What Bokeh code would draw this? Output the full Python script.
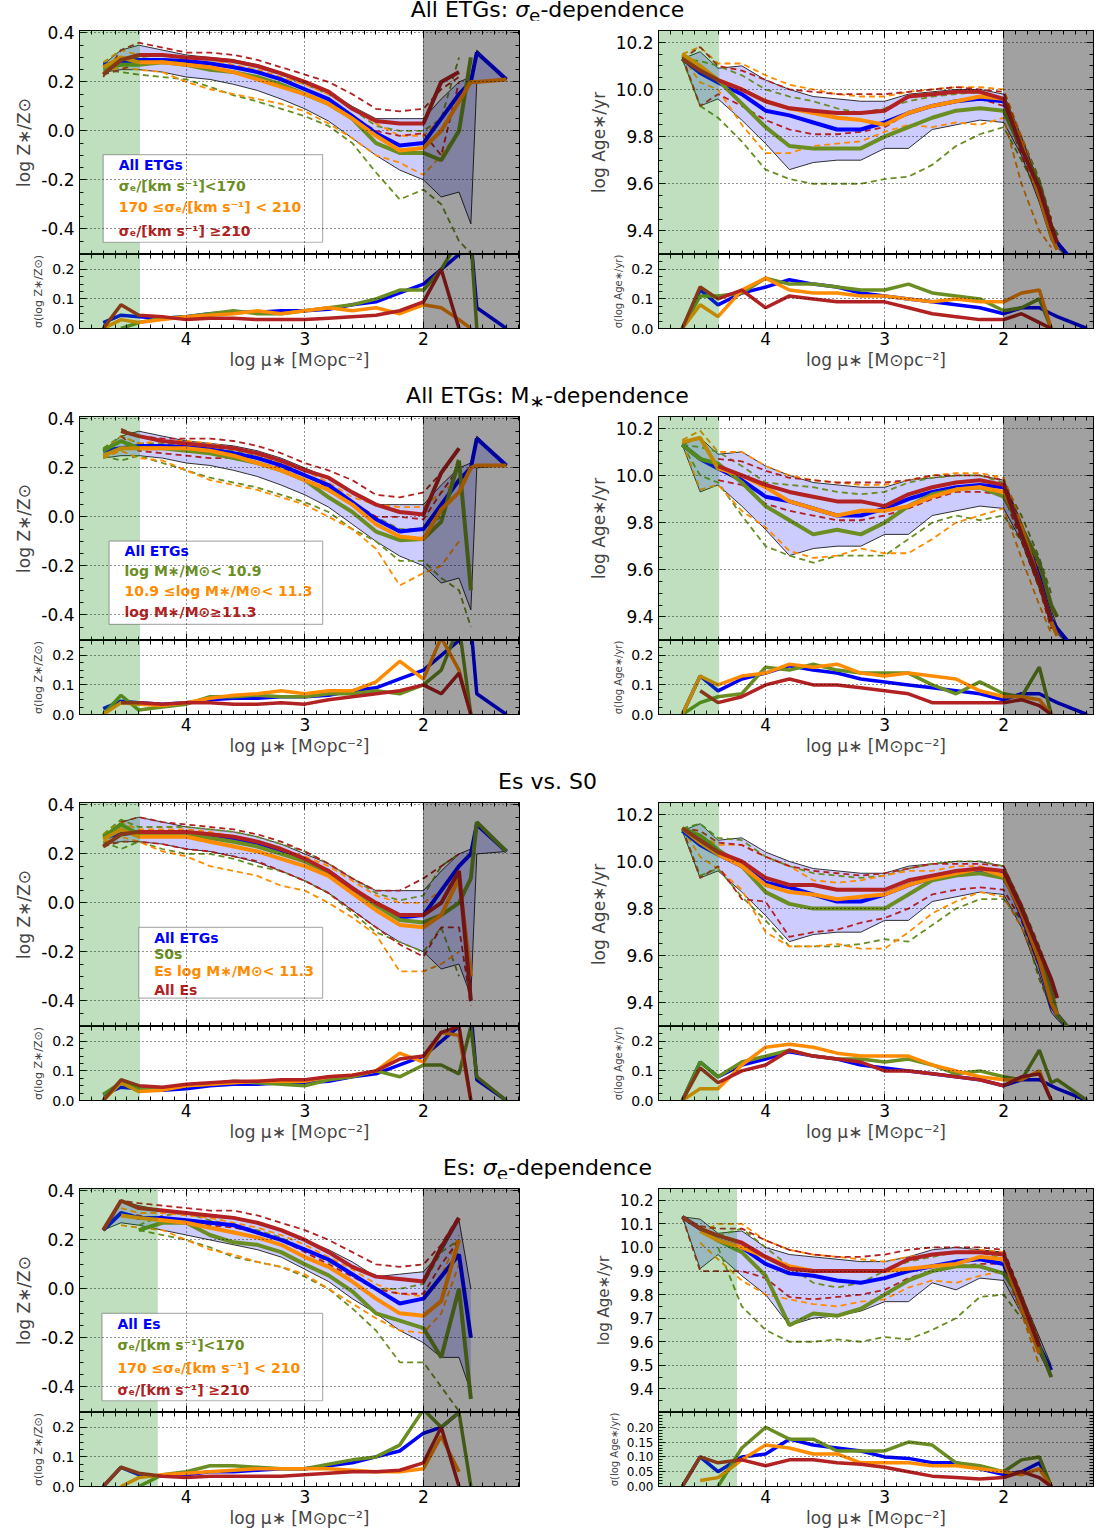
import numpy as np

from bokeh.plotting import figure
from bokeh.layouts import row, column
from bokeh.models import (Range1d, LinearAxis, FixedTicker, BoxAnnotation, Label,
                          Div, NumeralTickFormatter)
from bokeh.embed import file_html
from bokeh.resources import INLINE

# radial grid, log mu_* (same for every profile)
MU = [4.7, 4.55, 4.4, 4.2, 4.0, 3.8, 3.6, 3.4, 3.2, 3.0, 2.8, 2.6, 2.4, 2.2, 2.0, 1.85, 1.7, 1.6, 1.55, 1.3]
N = None

# ---- All ETGs (rows 1-3): mean, lower / upper envelope, scatter
Z_ALL = [0.27, 0.28, 0.29, 0.29, 0.285, 0.275, 0.26, 0.24, 0.21, 0.17, 0.13, 0.06, -0.01, -0.06, -0.05, 0.05, 0.15, 0.2, 0.32, 0.21]
Z_ALL_LO = [0.24, 0.25, 0.25, 0.24, 0.22, 0.21, 0.19, 0.165, 0.13, 0.09, 0.04, -0.03, -0.1, -0.16, -0.2, -0.27, -0.25, -0.38, 0.2, 0.21]
Z_ALL_HI = [0.27, 0.33, 0.35, 0.33, 0.31, 0.30, 0.29, 0.27, 0.24, 0.20, 0.16, 0.10, 0.05, 0.05, 0.05, 0.13, 0.2, 0.22, 0.33, 0.21]
Z_ALL_SD = [0.02, 0.045, 0.04, 0.035, 0.04, 0.05, 0.055, 0.055, 0.06, 0.06, 0.065, 0.08, 0.09, 0.12, 0.15, 0.2, 0.25, 0.3, 0.07, 0.0]
AGE_ALL = [10.13, 10.07, 10.03, 9.98, 9.91, 9.89, 9.86, 9.83, 9.83, 9.86, 9.9, 9.93, 9.95, 9.96, 9.95, 9.77, 9.57, 9.39, 9.35, 9.2]
AGE_ALL_LO = [10.13, 9.93, 9.96, 9.87, 9.77, 9.66, 9.69, 9.7, 9.7, 9.75, 9.75, 9.83, 9.85, 9.87, 9.86, 9.72, 9.52, 9.36, 9.33, 9.2]
AGE_ALL_HI = [10.13, 10.16, 10.09, 10.1, 10.04, 10.0, 9.97, 9.96, 9.95, 9.95, 9.98, 9.99, 10.0, 10.0, 9.98, 9.8, 9.6, 9.43, 9.36, 9.2]
AGE_ALL_SD = [0.0, 0.13, 0.08, 0.12, 0.14, 0.165, 0.15, 0.14, 0.12, 0.11, 0.1, 0.09, 0.08, 0.07, 0.05, 0.07, 0.07, 0.05, 0.04, 0.0]

# ---- row 1: sigma_e bins
Z_SIG1 = [0.26, 0.27, 0.27, 0.28, 0.27, 0.25, 0.24, 0.22, 0.19, 0.15, 0.11, 0.05, -0.05, -0.09, -0.09, -0.12, 0.0, 0.3, N, N]
Z_SIG1_LO = [0.25, 0.24, 0.23, 0.22, 0.21, 0.18, 0.145, 0.12, 0.09, 0.06, 0.02, -0.05, -0.17, -0.28, -0.24, -0.3, -0.45, -0.5, N, N]
Z_SIG1_HI = [0.27, 0.29, 0.30, 0.31, 0.30, 0.29, 0.28, 0.26, 0.23, 0.19, 0.15, 0.09, 0.02, 0.0, 0.0, 0.05, 0.3, N, N, N]
Z_SIG1_SD = [N, 0.0, 0.02, 0.035, 0.04, 0.05, 0.06, 0.05, 0.05, 0.06, 0.07, 0.08, 0.1, 0.13, 0.13, 0.2, 0.3, 0.3, 0.0, N]
Z_SIG2 = [0.26, 0.30, 0.28, 0.28, 0.27, 0.26, 0.24, 0.21, 0.18, 0.15, 0.11, 0.05, -0.02, -0.08, -0.07, 0.0, 0.12, 0.2, 0.2, 0.21]
Z_SIG2_LO = [0.24, 0.26, 0.25, 0.24, 0.2, 0.17, 0.15, 0.13, 0.11, 0.08, 0.03, -0.03, -0.1, -0.13, -0.18, -0.1, 0.0, N, N, N]
Z_SIG2_HI = [0.28, 0.33, 0.31, 0.31, 0.30, 0.29, 0.27, 0.25, 0.22, 0.19, 0.15, 0.09, 0.03, -0.02, -0.02, 0.05, 0.15, N, N, N]
Z_SIG2_SD = [0.0, 0.03, 0.02, 0.03, 0.04, 0.045, 0.05, 0.06, 0.05, 0.06, 0.07, 0.06, 0.07, 0.05, 0.08, 0.07, 0.03, 0.0, N, N]
Z_SIG3 = [0.23, 0.29, 0.31, 0.31, 0.30, 0.295, 0.285, 0.265, 0.235, 0.2, 0.16, 0.09, 0.04, 0.03, 0.03, 0.2, 0.24, N, N, N]
Z_SIG3_LO = [0.23, 0.25, 0.28, 0.28, 0.28, 0.27, 0.26, 0.24, 0.21, 0.17, 0.13, 0.06, 0.0, -0.02, -0.01, -0.1, 0.2, N, N, N]
Z_SIG3_HI = [0.22, 0.33, 0.36, 0.34, 0.32, 0.32, 0.31, 0.29, 0.26, 0.23, 0.20, 0.15, 0.09, 0.08, 0.09, 0.17, 0.22, N, N, N]
Z_SIG3_SD = [0.0, 0.08, 0.045, 0.04, 0.03, 0.035, 0.035, 0.03, 0.03, 0.03, 0.035, 0.04, 0.045, 0.06, 0.09, 0.2, 0.0, N, N, N]
AGE_SIG1 = [10.13, 10.09, 10.04, 9.94, 9.84, 9.76, 9.75, 9.75, 9.75, 9.8, 9.84, 9.88, 9.91, 9.92, 9.91, 9.75, 9.6, 9.42, 9.38, N]
AGE_SIG1_LO = [10.13, 9.93, 9.88, 9.78, 9.66, 9.62, 9.6, 9.6, 9.6, 9.62, 9.63, 9.68, 9.76, 9.81, 9.84, 9.7, 9.55, 9.4, N, N]
AGE_SIG1_HI = [10.13, 10.12, 10.1, 10.06, 10.0, 9.97, 9.95, 9.92, 9.9, 9.92, 9.95, 9.97, 9.98, 9.99, 9.96, 9.8, 9.62, 9.45, N, N]
AGE_SIG1_SD = [0.0, 0.11, 0.11, 0.12, 0.17, 0.15, 0.15, 0.14, 0.13, 0.13, 0.15, 0.12, 0.11, 0.1, 0.06, 0.07, 0.1, 0.0, N, N]
AGE_SIG2 = [10.15, 10.1, 10.04, 10.0, 9.95, 9.92, 9.9, 9.88, 9.87, 9.85, 9.9, 9.93, 9.95, 9.97, 9.96, 9.77, 9.55, 9.38, 9.32, N]
AGE_SIG2_LO = [10.14, 10.03, 10.0, 9.85, 9.73, 9.73, 9.76, 9.77, 9.78, 9.82, 9.85, 9.84, 9.86, 9.85, 9.88, 9.6, 9.4, 9.33, N, N]
AGE_SIG2_HI = [10.15, 10.18, 10.11, 10.11, 10.06, 10.02, 10.0, 9.98, 9.97, 9.97, 9.99, 10.0, 10.01, 10.01, 10.0, 9.8, 9.6, 9.42, N, N]
AGE_SIG2_SD = [0.0, 0.08, 0.04, 0.13, 0.17, 0.13, 0.12, 0.12, 0.11, 0.11, 0.1, 0.09, 0.1, 0.09, 0.09, 0.12, 0.13, 0.0, N, N]
AGE_SIG3 = [10.13, 10.08, 10.04, 10.0, 9.95, 9.92, 9.91, 9.9, 9.9, 9.91, 9.97, 9.98, 9.99, 9.99, 9.96, 9.75, 9.58, 9.42, 9.35, N]
AGE_SIG3_LO = [10.14, 9.93, 9.98, 9.93, 9.87, 9.83, 9.81, 9.81, 9.82, 9.84, 9.9, 9.93, 9.95, 9.96, 9.93, 9.72, 9.55, 9.38, N, N]
AGE_SIG3_HI = [10.13, 10.18, 10.1, 10.08, 10.04, 10.0, 9.99, 9.98, 9.98, 9.98, 9.99, 10.0, 10.01, 10.0, 9.99, 9.78, 9.6, 9.45, N, N]
AGE_SIG3_SD = [0.0, 0.14, 0.1, 0.13, 0.07, 0.11, 0.1, 0.09, 0.09, 0.09, 0.07, 0.05, 0.04, 0.03, 0.03, 0.05, 0.02, 0.0, N, N]

# ---- row 2: stellar-mass bins
Z_M1 = [0.27, 0.31, 0.28, 0.28, 0.27, 0.26, 0.24, 0.22, 0.19, 0.15, 0.08, 0.02, -0.06, -0.095, -0.09, -0.02, 0.23, -0.3, N, N]
Z_M1_LO = [0.25, 0.23, 0.25, 0.22, 0.19, 0.16, 0.14, 0.12, 0.09, 0.06, 0.02, -0.05, -0.1, -0.18, -0.18, -0.25, -0.3, -0.45, N, N]
Z_M1_HI = [0.28, 0.33, 0.30, 0.30, 0.29, 0.28, 0.27, 0.25, 0.22, 0.17, 0.12, 0.06, 0.0, -0.05, -0.05, 0.0, 0.25, N, N, N]
Z_M1_SD = [0.0, 0.065, 0.015, 0.025, 0.035, 0.06, 0.06, 0.065, 0.06, 0.06, 0.07, 0.07, 0.08, 0.07, 0.1, 0.15, 0.3, 0.0, N, N]
Z_M2 = [0.25, 0.28, 0.28, 0.28, 0.28, 0.27, 0.25, 0.22, 0.19, 0.15, 0.11, 0.05, -0.03, -0.08, -0.09, 0.03, 0.1, 0.2, 0.21, 0.21]
Z_M2_LO = [0.24, 0.27, 0.24, 0.23, 0.19, 0.15, 0.13, 0.11, 0.08, 0.05, 0.0, -0.05, -0.13, -0.28, -0.23, -0.2, -0.1, N, N, N]
Z_M2_HI = [0.27, 0.33, 0.30, 0.31, 0.31, 0.30, 0.28, 0.25, 0.22, 0.19, 0.14, 0.08, 0.05, 0.04, 0.04, 0.1, 0.15, N, N, N]
Z_M2_SD = [0.0, 0.04, 0.035, 0.03, 0.04, 0.055, 0.065, 0.07, 0.08, 0.07, 0.08, 0.08, 0.11, 0.18, 0.12, 0.26, 0.15, 0.0, N, N]
Z_M3 = [N, 0.35, 0.33, 0.31, 0.30, 0.29, 0.28, 0.26, 0.23, 0.19, 0.16, 0.1, 0.05, 0.02, 0.01, 0.18, 0.28, N, N, N]
Z_M3_LO = [N, 0.33, 0.27, 0.26, 0.25, 0.24, 0.24, 0.22, 0.2, 0.17, 0.12, 0.06, 0.0, 0.0, -0.01, 0.1, 0.2, N, N, N]
Z_M3_HI = [N, 0.36, 0.33, 0.32, 0.32, 0.32, 0.31, 0.29, 0.26, 0.22, 0.19, 0.15, 0.09, 0.08, 0.1, 0.18, 0.28, N, N, N]
Z_M3_SD = [N, 0.04, 0.04, 0.035, 0.04, 0.04, 0.035, 0.035, 0.04, 0.035, 0.05, 0.06, 0.07, 0.08, 0.1, 0.07, 0.14, 0.0, N, N]
AGE_M1 = [10.13, 10.07, 10.05, 9.97, 9.87, 9.81, 9.75, 9.77, 9.75, 9.8, 9.87, 9.92, 9.94, 9.95, 9.91, 9.78, 9.63, 9.45, 9.4, N]
AGE_M1_LO = [10.13, 10.0, 9.97, 9.83, 9.7, 9.66, 9.63, 9.66, 9.66, 9.66, 9.73, 9.8, 9.83, 9.81, 9.83, 9.72, 9.58, 9.45, N, N]
AGE_M1_HI = [10.13, 10.12, 10.1, 10.04, 9.97, 9.96, 9.95, 9.93, 9.92, 9.93, 9.97, 9.99, 10.0, 10.0, 9.97, 9.83, 9.65, 9.5, N, N]
AGE_M1_SD = [0.0, 0.04, 0.06, 0.07, 0.16, 0.15, 0.17, 0.15, 0.14, 0.14, 0.14, 0.1, 0.07, 0.11, 0.07, 0.06, 0.16, 0.0, N, N]
AGE_M2 = [10.14, 10.16, 10.03, 10.0, 9.95, 9.89, 9.86, 9.83, 9.85, 9.85, 9.87, 9.91, 9.94, 9.95, 9.93, 9.78, 9.55, 9.38, 9.32, N]
AGE_M2_LO = [10.14, 9.94, 9.96, 9.85, 9.78, 9.68, 9.65, 9.66, 9.69, 9.67, 9.67, 9.73, 9.8, 9.83, 9.86, 9.65, 9.45, 9.33, N, N]
AGE_M2_HI = [10.15, 10.19, 10.1, 10.1, 10.04, 10.0, 9.98, 9.97, 9.96, 9.96, 9.98, 10.0, 10.01, 10.01, 9.99, 9.8, 9.6, 9.42, N, N]
AGE_M2_SD = [0.0, 0.13, 0.1, 0.13, 0.14, 0.17, 0.16, 0.17, 0.14, 0.13, 0.14, 0.13, 0.12, 0.08, 0.06, 0.06, 0.05, 0.0, N, N]
AGE_M3 = [N, N, 10.04, 10.0, 9.96, 9.93, 9.91, 9.89, 9.89, 9.87, 9.92, 9.95, 9.97, 9.98, 9.96, 9.75, 9.55, 9.38, N, N]
AGE_M3_LO = [N, N, 9.98, 9.96, 9.88, 9.85, 9.83, 9.81, 9.81, 9.83, 9.86, 9.9, 9.93, 9.93, 9.92, 9.72, 9.52, 9.35, N, N]
AGE_M3_HI = [N, N, 10.07, 10.06, 10.02, 9.99, 9.98, 9.97, 9.97, 9.97, 9.98, 10.0, 10.0, 10.0, 9.98, 9.78, 9.58, 9.4, N, N]
AGE_M3_SD = [N, 0.08, 0.04, 0.06, 0.1, 0.12, 0.1, 0.1, 0.09, 0.08, 0.07, 0.04, 0.04, 0.04, 0.04, 0.05, 0.03, 0.0, N, N]

# ---- row 3: S0s, Es below 11.3, all Es
Z_S0 = [0.27, 0.32, 0.28, 0.28, 0.28, 0.265, 0.25, 0.23, 0.2, 0.17, 0.12, 0.06, -0.01, -0.07, -0.08, -0.05, 0.0, 0.1, 0.33, 0.21]
Z_S0_LO = [0.25, 0.22, 0.25, 0.22, 0.2, 0.2, 0.18, 0.15, 0.13, 0.09, 0.04, -0.04, -0.12, -0.16, -0.2, -0.1, -0.3, N, N, N]
Z_S0_HI = [0.28, 0.34, 0.31, 0.31, 0.31, 0.30, 0.29, 0.27, 0.24, 0.21, 0.16, 0.1, 0.04, 0.01, 0.03, 0.15, 0.2, N, N, N]
Z_S0_SD = [0.02, 0.06, 0.04, 0.04, 0.05, 0.055, 0.065, 0.06, 0.055, 0.05, 0.07, 0.08, 0.1, 0.08, 0.12, 0.12, 0.09, 0.25, 0.08, 0.0]
Z_EL = [0.26, 0.3, 0.27, 0.27, 0.27, 0.25, 0.23, 0.21, 0.18, 0.15, 0.11, 0.04, -0.03, -0.09, -0.1, -0.05, 0.1, -0.3, N, N]
Z_EL_LO = [0.25, 0.27, 0.25, 0.21, 0.19, 0.15, 0.13, 0.11, 0.07, 0.05, 0.0, -0.06, -0.13, -0.28, -0.28, -0.25, -0.2, N, N, N]
Z_EL_HI = [0.28, 0.33, 0.30, 0.30, 0.30, 0.29, 0.27, 0.25, 0.22, 0.19, 0.15, 0.09, 0.03, 0.0, 0.0, 0.05, 0.1, N, N, N]
Z_EL_SD = [0.0, 0.06, 0.03, 0.035, 0.05, 0.055, 0.06, 0.065, 0.065, 0.065, 0.08, 0.085, 0.1, 0.16, 0.13, 0.23, 0.22, 0.0, N, N]
Z_EA = [0.23, 0.28, 0.29, 0.29, 0.29, 0.28, 0.27, 0.25, 0.22, 0.18, 0.13, 0.06, 0.0, -0.05, -0.05, 0.0, 0.13, -0.4, N, N]
Z_EA_LO = [0.23, 0.25, 0.25, 0.24, 0.22, 0.21, 0.19, 0.17, 0.13, 0.09, 0.04, -0.03, -0.1, -0.17, -0.22, -0.1, -0.1, -0.42, N, N]
Z_EA_HI = [0.23, 0.33, 0.35, 0.33, 0.32, 0.31, 0.30, 0.28, 0.25, 0.21, 0.16, 0.1, 0.05, 0.05, 0.1, 0.15, 0.2, N, N, N]
Z_EA_SD = [0.0, 0.07, 0.05, 0.045, 0.055, 0.06, 0.065, 0.065, 0.07, 0.07, 0.08, 0.085, 0.1, 0.14, 0.15, 0.23, 0.25, 0.0, N, N]
AGE_S0 = [10.14, 10.11, 10.05, 9.98, 9.87, 9.82, 9.8, 9.8, 9.8, 9.8, 9.86, 9.92, 9.94, 9.95, 9.93, 9.8, 9.6, 9.45, 9.35, 9.2]
AGE_S0_LO = [10.14, 9.94, 9.97, 9.85, 9.75, 9.64, 9.64, 9.64, 9.65, 9.67, 9.66, 9.73, 9.8, 9.84, 9.84, 9.75, 9.5, 9.38, N, N]
AGE_S0_HI = [10.14, 10.16, 10.1, 10.09, 10.02, 9.98, 9.95, 9.94, 9.93, 9.94, 9.97, 9.99, 10.0, 10.0, 9.98, 9.82, 9.64, 9.5, N, N]
AGE_S0_SD = [0.0, 0.13, 0.08, 0.13, 0.15, 0.17, 0.15, 0.14, 0.14, 0.13, 0.14, 0.12, 0.09, 0.1, 0.08, 0.07, 0.17, 0.06, 0.07, 0.0]
AGE_EL = [10.14, 10.08, 10.03, 9.98, 9.9, 9.87, 9.86, 9.84, 9.85, 9.86, 9.9, 9.93, 9.95, 9.97, 9.94, 9.78, 9.58, 9.4, 9.35, N]
AGE_EL_LO = [10.14, 10.02, 9.97, 9.88, 9.7, 9.64, 9.64, 9.65, 9.63, 9.63, 9.7, 9.78, 9.83, 9.87, 9.85, 9.72, 9.55, 9.4, N, N]
AGE_EL_HI = [10.14, 10.11, 10.07, 10.07, 10.02, 9.98, 9.92, 9.91, 9.92, 9.94, 9.96, 9.96, 9.98, 9.98, 9.96, 9.8, 9.6, 9.45, N, N]
AGE_EL_SD = [0.0, 0.04, 0.04, 0.12, 0.18, 0.19, 0.18, 0.16, 0.15, 0.15, 0.15, 0.12, 0.1, 0.08, 0.07, 0.07, 0.1, 0.0, N, N]
AGE_EA = [10.14, 10.09, 10.04, 10.0, 9.93, 9.9, 9.9, 9.88, 9.88, 9.88, 9.92, 9.94, 9.96, 9.97, 9.96, 9.8, 9.62, 9.5, 9.42, N]
AGE_EA_LO = [10.14, 9.93, 9.98, 9.84, 9.83, 9.68, 9.7, 9.71, 9.74, 9.76, 9.8, 9.86, 9.88, 9.89, 9.88, 9.75, 9.55, 9.4, N, N]
AGE_EA_HI = [10.14, 10.13, 10.08, 10.07, 10.02, 9.98, 9.96, 9.95, 9.94, 9.95, 9.97, 9.99, 9.99, 9.99, 9.98, 9.82, 9.62, 9.48, N, N]
AGE_EA_SD = [0.0, 0.11, 0.06, 0.1, 0.12, 0.17, 0.15, 0.14, 0.13, 0.1, 0.1, 0.09, 0.08, 0.07, 0.05, 0.08, 0.09, 0.0, N, N]

# ---- row 4: all Es and their sigma_e bins
ZE_ALL = [0.24, 0.31, 0.29, 0.29, 0.28, 0.27, 0.26, 0.23, 0.2, 0.16, 0.12, 0.06, 0.0, -0.06, -0.04, 0.05, 0.14, -0.2, N, N]
ZE_ALL_LO = [0.24, 0.27, 0.26, 0.24, 0.22, 0.2, 0.18, 0.16, 0.13, 0.08, 0.03, -0.04, -0.1, -0.17, -0.22, -0.28, -0.28, -0.42, N, N]
ZE_ALL_HI = [0.24, 0.36, 0.34, 0.32, 0.31, 0.3, 0.29, 0.27, 0.24, 0.2, 0.16, 0.11, 0.05, 0.06, 0.07, 0.15, 0.28, 0.0, N, N]
ZE_ALL_SD = [0.0, 0.065, 0.04, 0.035, 0.04, 0.05, 0.05, 0.055, 0.06, 0.06, 0.07, 0.08, 0.1, 0.12, 0.18, 0.2, 0.25, 0.3, N, N]
ZE_SIG1 = [N, N, 0.24, 0.27, 0.27, 0.22, 0.19, 0.18, 0.15, 0.1, 0.055, -0.01, -0.1, -0.13, -0.16, -0.28, 0.0, -0.45, N, N]
ZE_SIG1_LO = [N, N, 0.24, 0.22, 0.2, 0.17, 0.13, 0.11, 0.09, 0.05, 0.0, -0.08, -0.17, -0.3, -0.3, -0.4, -0.5, N, N, N]
ZE_SIG1_HI = [N, N, 0.26, 0.3, 0.31, 0.28, 0.26, 0.24, 0.21, 0.16, 0.11, 0.06, 0.0, 0.0, 0.02, 0.15, 0.2, N, N, N]
ZE_SIG1_SD = [N, N, 0.0, 0.04, 0.05, 0.07, 0.07, 0.065, 0.06, 0.06, 0.075, 0.09, 0.1, 0.14, 0.26, 0.2, 0.25, 0.0, N, N]
ZE_SIG2 = [N, 0.3, 0.29, 0.28, 0.27, 0.25, 0.23, 0.21, 0.18, 0.13, 0.09, 0.03, -0.04, -0.1, -0.11, -0.05, 0.2, N, N, N]
ZE_SIG2_LO = [N, 0.26, 0.25, 0.24, 0.2, 0.16, 0.14, 0.11, 0.09, 0.06, 0.0, -0.06, -0.12, -0.17, -0.18, -0.1, 0.1, N, N, N]
ZE_SIG2_HI = [N, 0.33, 0.31, 0.31, 0.3, 0.29, 0.27, 0.25, 0.22, 0.18, 0.13, 0.08, 0.02, -0.02, -0.03, 0.05, 0.22, N, N, N]
ZE_SIG2_SD = [N, 0.0, 0.03, 0.04, 0.045, 0.05, 0.055, 0.06, 0.06, 0.06, 0.06, 0.055, 0.05, 0.05, 0.06, 0.17, 0.05, N, N, N]
ZE_SIG3 = [0.24, 0.36, 0.33, 0.32, 0.31, 0.30, 0.29, 0.27, 0.24, 0.2, 0.15, 0.09, 0.05, 0.04, 0.03, 0.17, 0.29, N, N, N]
ZE_SIG3_LO = [0.24, 0.31, 0.30, 0.28, 0.27, 0.26, 0.25, 0.23, 0.2, 0.15, 0.1, 0.05, 0.0, -0.02, -0.02, 0.1, 0.2, N, N, N]
ZE_SIG3_HI = [0.24, 0.36, 0.35, 0.34, 0.33, 0.32, 0.32, 0.3, 0.27, 0.24, 0.2, 0.15, 0.1, 0.09, 0.1, 0.18, 0.3, N, N, N]
ZE_SIG3_SD = [0.0, 0.065, 0.045, 0.035, 0.03, 0.035, 0.035, 0.035, 0.035, 0.04, 0.045, 0.05, 0.05, 0.055, 0.08, 0.2, 0.0, N, N, N]
AE_ALL = [10.13, 10.08, 10.03, 10.0, 9.93, 9.89, 9.88, 9.86, 9.85, 9.87, 9.9, 9.92, 9.94, 9.95, 9.93, 9.75, 9.58, 9.48, N, N]
AE_ALL_LO = [10.13, 9.91, 9.97, 9.88, 9.8, 9.67, 9.7, 9.71, 9.73, 9.77, 9.77, 9.85, 9.82, 9.87, 9.86, 9.72, 9.55, 9.45, N, N]
AE_ALL_HI = [10.13, 10.12, 10.06, 10.07, 10.0, 9.97, 9.96, 9.95, 9.94, 9.94, 9.96, 9.99, 10.0, 9.99, 9.98, 9.8, 9.62, 9.5, N, N]
AE_ALL_SD = [0.0, 0.1, 0.05, 0.1, 0.11, 0.16, 0.14, 0.13, 0.12, 0.1, 0.095, 0.08, 0.08, 0.06, 0.04, 0.05, 0.08, 0.0, N, N]
AE_SIG1 = [N, N, 10.03, 9.98, 9.88, 9.67, 9.72, 9.71, 9.74, 9.8, 9.86, 9.9, 9.92, 9.92, 9.89, 9.78, 9.58, 9.45, N, N]
AE_SIG1_LO = [N, N, 10.0, 9.75, 9.65, 9.6, 9.6, 9.61, 9.6, 9.62, 9.61, 9.65, 9.7, 9.79, 9.8, 9.7, N, N, N, N]
AE_SIG1_HI = [N, N, 10.05, 10.08, 10.0, 9.92, 9.85, 9.83, 9.85, 9.9, 9.94, 9.96, 9.98, 9.98, 9.95, 9.8, 9.6, N, N, N]
AE_SIG1_SD = [N, N, 0.0, 0.13, 0.2, 0.16, 0.16, 0.12, 0.12, 0.12, 0.15, 0.14, 0.08, 0.07, 0.05, 0.09, 0.1, 0.0, N, N]
AE_SIG2 = [N, 10.07, 10.03, 10.0, 9.96, 9.92, 9.9, 9.9, 9.9, 9.9, 9.91, 9.92, 9.93, 9.96, 9.95, 9.75, 9.55, N, N, N]
AE_SIG2_LO = [N, 10.02, 9.95, 9.86, 9.8, 9.78, 9.76, 9.75, 9.77, 9.78, 9.83, 9.86, 9.85, 9.88, 9.9, 9.72, 9.5, N, N, N]
AE_SIG2_HI = [N, 10.06, 10.1, 10.1, 10.03, 9.99, 9.97, 9.96, 9.95, 9.94, 9.96, 9.97, 9.98, 9.99, 9.98, 9.8, 9.6, N, N, N]
AE_SIG2_SD = [N, 0.02, 0.03, 0.09, 0.14, 0.13, 0.11, 0.11, 0.08, 0.08, 0.08, 0.07, 0.07, 0.06, 0.05, 0.04, 0.06, 0.0, N, N]
AE_SIG3 = [10.13, 10.08, 10.05, 10.02, 9.96, 9.91, 9.9, 9.9, 9.9, 9.9, 9.95, 9.97, 9.98, 9.98, 9.97, 9.78, 9.58, N, N, N]
AE_SIG3_LO = [10.13, 9.9, 9.9, 9.9, 9.87, 9.79, 9.78, 9.79, 9.8, 9.82, 9.87, 9.9, 9.92, 9.93, 9.93, 9.75, 9.55, N, N, N]
AE_SIG3_HI = [10.13, 10.09, 10.08, 10.08, 10.03, 9.99, 9.97, 9.96, 9.96, 9.97, 9.99, 10.0, 10.0, 10.0, 9.99, 9.8, 9.6, N, N, N]
AE_SIG3_SD = [0.0, 0.1, 0.08, 0.09, 0.07, 0.09, 0.09, 0.08, 0.075, 0.065, 0.05, 0.035, 0.03, 0.025, 0.03, 0.05, 0.03, 0.0, N, N]

SIG_BINS = ["σₑ/[km s⁻¹]<170", "170 ≤σₑ/[km s⁻¹] < 210", "σₑ/[km s⁻¹] ≥210"]
MASS_BINS = ["log M∗/M⊙< 10.9", "10.9 ≤log M∗/M⊙< 11.3", "log M∗/M⊙≥11.3"]
MORPH = ["S0s", "Es log M∗/M⊙< 11.3", "All Es"]
TITLES = ["All ETGs: <i>σ</i><sub>e</sub>-dependence", "All ETGs: M<sub>∗</sub>-dependence",
          "Es vs. S0", "Es: <i>σ</i><sub>e</sub>-dependence"]
GOOD_EDGE = [4.39, 4.39, 4.39, 4.24]   # inner resolution limit (green)
LIMIT = 2.0                            # outer surface-density limit (grey)

FONT = "DejaVu Sans"
COLORS = ["blue", "olivedrab", "darkorange", "firebrick"]
X_MINOR = [round(v, 2) for v in np.arange(1.2, 4.95, 0.1)]
PAGE_W = 1095


def a(v):
    return np.array(v, dtype=float)


def dress(p, ymaj, ymin, yfmt, ylab, ysize, lsize, xlabels, xsize=17):
    p.add_layout(LinearAxis(), "above")
    p.add_layout(LinearAxis(), "right")
    xt = FixedTicker(ticks=[2, 3, 4], minor_ticks=X_MINOR)
    yt = FixedTicker(ticks=ymaj, minor_ticks=ymin)
    for ax in p.xaxis:
        ax.ticker = xt
    for ax in p.yaxis:
        ax.ticker = yt
    for ax in p.axis:
        ax.major_tick_in = 7
        ax.major_tick_out = 0
        ax.minor_tick_in = 4
        ax.minor_tick_out = 0
        ax.major_label_standoff = 0
        ax.major_label_text_font_size = "1px"
        ax.major_label_text_color = None
        ax.axis_line_color = "black"
        ax.major_tick_line_color = "black"
        ax.minor_tick_line_color = "black"
    ly = p.left[0]
    ly.formatter = NumeralTickFormatter(format=yfmt)
    ly.major_label_standoff = 5
    ly.major_label_text_color = "black"
    ly.major_label_text_font = FONT
    ly.major_label_text_font_size = f"{ysize}px"
    ly.axis_label = ylab
    ly.axis_label_text_font = FONT
    ly.axis_label_text_font_style = "normal"
    ly.axis_label_text_font_size = f"{lsize}px"
    ly.axis_label_standoff = 4
    if xlabels:
        bx = p.below[0]
        bx.formatter = NumeralTickFormatter(format="0")
        bx.major_label_standoff = 3
        bx.major_label_text_color = "black"
        bx.major_label_text_font = FONT
        bx.major_label_text_font_size = f"{xsize}px"
        bx.axis_label = "log μ∗ [M⊙pc⁻²]"
        bx.axis_label_text_font = FONT
        bx.axis_label_text_font_style = "normal"
        bx.axis_label_text_font_size = f"{xsize}px"
        bx.axis_label_standoff = 2
    p.xgrid.ticker = xt
    p.ygrid.ticker = yt
    p.grid.grid_line_color = "black"
    p.grid.grid_line_dash = "1 3"
    p.grid.grid_line_alpha = 0.85
    p.grid.level = "overlay"
    p.outline_line_color = "black"
    p.background_fill_color = "white"


def shade(p, good, x_end):
    p.add_layout(BoxAnnotation(left=4.9, right=good, fill_color="green", fill_alpha=0.25,
                               line_color=None))
    p.add_layout(BoxAnnotation(left=LIMIT, right=x_end, fill_color="black", fill_alpha=0.37,
                               line_color="black", line_alpha=0.35))


def pair(sets, xr, fw, borders, bottom, yr, ymaj, ymin, yfmt, ylab, rmaj, rmin, rfmt,
         rlab, good, ysize=17, rsize=14, lsize=17, rlsize=11):
    x = a(MU)
    lo0, hi0 = a(sets[0][1]), a(sets[0][2])
    p = figure(frame_width=fw, frame_height=224, x_range=xr, y_range=Range1d(*yr),
               output_backend="svg", toolbar_location=None,
               min_border_left=borders[0], min_border_right=borders[1],
               min_border_top=10, min_border_bottom=0)
    ok = np.isfinite(lo0) & np.isfinite(hi0)
    p.varea(x=x[ok], y1=lo0[ok], y2=hi0[ok], fill_color="blue", fill_alpha=0.2)
    p.line(x, lo0, line_color="black", line_width=0.8)
    p.line(x, hi0, line_color="black", line_width=0.8)
    for s, c in zip(sets[1:], COLORS[1:]):
        p.line(x, a(s[1]), line_color=c, line_width=1.8, line_dash="6 4")
        p.line(x, a(s[2]), line_color=c, line_width=1.8, line_dash="6 4")
    for s, c in zip(sets, COLORS):
        p.line(x, a(s[0]), line_color=c, line_width=4)
    shade(p, good, xr.end)
    dress(p, ymaj, ymin, yfmt, ylab, ysize, lsize, False)

    r = figure(frame_width=fw, frame_height=74, x_range=xr, y_range=Range1d(0, 0.25),
               output_backend="svg", toolbar_location=None,
               min_border_left=borders[0], min_border_right=borders[1],
               min_border_top=0, min_border_bottom=bottom)
    for s, c in zip(sets, COLORS):
        r.line(x, a(s[3]), line_color=c, line_width=3.5)
    shade(r, good, xr.end)
    dress(r, rmaj, rmin, rfmt, rlab, rsize, rlsize, True)
    return column(p, r), p


def legend(p, names, box, tx, tys):
    p.add_layout(BoxAnnotation(left=box[0], right=box[1], top=box[2], bottom=box[3],
                               fill_color="white", fill_alpha=1.0, line_color="black",
                               line_width=1.2))
    for name, c, ty in zip(names, COLORS, tys):
        p.add_layout(Label(x=tx, y=ty, text=name, text_color=c, text_font=FONT,
                           text_font_size="14px", text_font_style="bold",
                           text_baseline="middle"))


CELLS = [
    ([(Z_ALL, Z_ALL_LO, Z_ALL_HI, Z_ALL_SD), (Z_SIG1, Z_SIG1_LO, Z_SIG1_HI, Z_SIG1_SD),
      (Z_SIG2, Z_SIG2_LO, Z_SIG2_HI, Z_SIG2_SD), (Z_SIG3, Z_SIG3_LO, Z_SIG3_HI, Z_SIG3_SD)],
     [(AGE_ALL, AGE_ALL_LO, AGE_ALL_HI, AGE_ALL_SD), (AGE_SIG1, AGE_SIG1_LO, AGE_SIG1_HI, AGE_SIG1_SD),
      (AGE_SIG2, AGE_SIG2_LO, AGE_SIG2_HI, AGE_SIG2_SD), (AGE_SIG3, AGE_SIG3_LO, AGE_SIG3_HI, AGE_SIG3_SD)],
     ["All ETGs"] + SIG_BINS),
    ([(Z_ALL, Z_ALL_LO, Z_ALL_HI, Z_ALL_SD), (Z_M1, Z_M1_LO, Z_M1_HI, Z_M1_SD),
      (Z_M2, Z_M2_LO, Z_M2_HI, Z_M2_SD), (Z_M3, Z_M3_LO, Z_M3_HI, Z_M3_SD)],
     [(AGE_ALL, AGE_ALL_LO, AGE_ALL_HI, AGE_ALL_SD), (AGE_M1, AGE_M1_LO, AGE_M1_HI, AGE_M1_SD),
      (AGE_M2, AGE_M2_LO, AGE_M2_HI, AGE_M2_SD), (AGE_M3, AGE_M3_LO, AGE_M3_HI, AGE_M3_SD)],
     ["All ETGs"] + MASS_BINS),
    ([(Z_ALL, Z_ALL_LO, Z_ALL_HI, Z_ALL_SD), (Z_S0, Z_S0_LO, Z_S0_HI, Z_S0_SD),
      (Z_EL, Z_EL_LO, Z_EL_HI, Z_EL_SD), (Z_EA, Z_EA_LO, Z_EA_HI, Z_EA_SD)],
     [(AGE_ALL, AGE_ALL_LO, AGE_ALL_HI, AGE_ALL_SD), (AGE_S0, AGE_S0_LO, AGE_S0_HI, AGE_S0_SD),
      (AGE_EL, AGE_EL_LO, AGE_EL_HI, AGE_EL_SD), (AGE_EA, AGE_EA_LO, AGE_EA_HI, AGE_EA_SD)],
     ["All ETGs"] + MORPH),
    ([(ZE_ALL, ZE_ALL_LO, ZE_ALL_HI, ZE_ALL_SD), (ZE_SIG1, ZE_SIG1_LO, ZE_SIG1_HI, ZE_SIG1_SD),
      (ZE_SIG2, ZE_SIG2_LO, ZE_SIG2_HI, ZE_SIG2_SD), (ZE_SIG3, ZE_SIG3_LO, ZE_SIG3_HI, ZE_SIG3_SD)],
     [(AE_ALL, AE_ALL_LO, AE_ALL_HI, AE_ALL_SD), (AE_SIG1, AE_SIG1_LO, AE_SIG1_HI, AE_SIG1_SD),
      (AE_SIG2, AE_SIG2_LO, AE_SIG2_HI, AE_SIG2_SD), (AE_SIG3, AE_SIG3_LO, AE_SIG3_HI, AE_SIG3_SD)],
     ["All Es"] + SIG_BINS),
]

for zs, ags, _ in CELLS:
    for s in zs + ags:
        for v in s:
            assert len(v) == len(MU)

LEG_BOX = [(4.70, 2.85, -0.097, -0.455), (4.65, 2.85, -0.099, -0.439),
           (4.40, 2.85, -0.10, -0.389), (4.71, 2.85, -0.10, -0.457)]
LEG_X = [4.57, 4.52, 4.27, 4.58]
LEG_Y = [[-0.14, -0.225, -0.313, -0.407], [-0.14, -0.22, -0.304, -0.387],
         [-0.142, -0.208, -0.28, -0.354], [-0.143, -0.23, -0.323, -0.415]]

z_maj = [-0.4, -0.2, 0.0, 0.2, 0.4]
z_min = [round(v, 3) for v in np.arange(-0.5, 0.42, 0.05)]
s_maj = [0.0, 0.1, 0.2]
s_min = [round(v, 3) for v in np.arange(0.0, 0.26, 0.025)]
a_min = [round(v, 3) for v in np.arange(9.3, 10.26, 0.05)]

rows = []
for i, (zs, ags, names) in enumerate(CELLS):
    last = i == 3
    bottom = 44 if last else 58
    xl = Range1d(4.9, 1.19)
    xr = Range1d(4.9, 1.245)
    left_col, pz = pair(zs, xl, 440, (79, 64), bottom, (-0.505, 0.41), z_maj, z_min, "0.0",
                        "log Z∗/Z⊙", s_maj, s_min, "0.0", "σ(log Z∗/Z⊙)", GOOD_EDGE[i])
    if last:
        right_col, pa = pair(ags, xr, 435, (75, 2), bottom, (9.3, 10.25),
                             [9.4, 9.5, 9.6, 9.7, 9.8, 9.9, 10.0, 10.1, 10.2], a_min, "0.0",
                             "log Age∗/yr", [0.0, 0.05, 0.1, 0.15, 0.2],
                             [round(v, 3) for v in np.arange(0.0, 0.26, 0.01)], "0.00",
                             "σ(log Age∗/yr)", GOOD_EDGE[i], ysize=15, rsize=12,
                             lsize=15, rlsize=10)
    else:
        right_col, pa = pair(ags, xr, 435, (75, 2), bottom, (9.3, 10.25),
                             [9.4, 9.6, 9.8, 10.0, 10.2], a_min, "0.0", "log Age∗/yr",
                             s_maj, s_min, "0.0", "σ(log Age∗/yr)", GOOD_EDGE[i],
                             rlsize=10)
    legend(pz, names, LEG_BOX[i], LEG_X[i], LEG_Y[i])
    title = Div(text=f'<div style="width:{PAGE_W}px;text-align:center;'
                     f'font-family:\'DejaVu Sans\';font-size:22px;line-height:20px;'
                     f'color:black">{TITLES[i]}</div>',
                width=PAGE_W, height=20, margin=(0, 0, 0, 0))
    rows.append(column(title, row(left_col, right_col)))

page = column(*rows)
open("out.html", "w").write(file_html(page, INLINE, title="ETG radial profiles"))
